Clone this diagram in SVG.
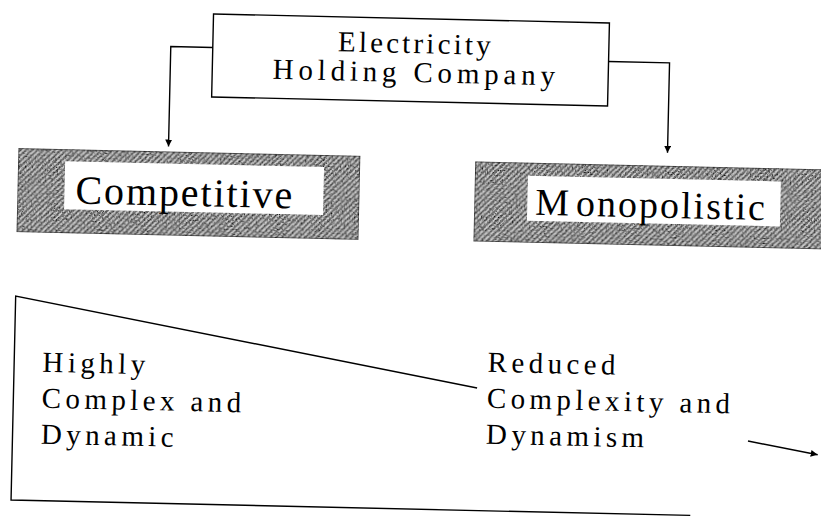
<svg xmlns="http://www.w3.org/2000/svg" width="821" height="518" viewBox="0 0 821 518">
  <style>
    .ln { fill: none; stroke: #000; stroke-width: 1.4; }
    .box { fill: #fff; stroke: #000; stroke-width: 1.4; }
    .shade { fill: url(#hatch); stroke: #222; stroke-width: 1.2; }
    .panel { fill: #fff; stroke: none; }
    .t { font-family: "Liberation Serif", "Times New Roman", serif; fill: #000; }
    .top { font-size: 29px; letter-spacing: 3.2px; text-anchor: middle; }
    .big { font-size: 40px; letter-spacing: 1.9px; }
    .body { font-size: 29px; letter-spacing: 4.4px; }
  </style>
  <defs>
    <pattern id="hatch" width="4" height="4" patternUnits="userSpaceOnUse" patternTransform="rotate(45)">
      <rect width="4" height="4" fill="#d0d0d0"/>
      <rect width="2" height="4" fill="#747474"/>
    </pattern>
    <!-- speckled grain laid over the hatching -->
    <filter id="grainy" x="0" y="0" width="1" height="1">
      <feTurbulence type="fractalNoise" baseFrequency="0.6" numOctaves="3" seed="11" result="n"/>
      <feColorMatrix in="n" type="matrix" values="3 0 0 0 -0.7  3 0 0 0 -0.7  3 0 0 0 -0.7  0 0 0 0 1" result="g"/>
      <feBlend in="SourceGraphic" in2="g" mode="multiply" result="b"/>
      <feComposite in="b" in2="SourceAlpha" operator="in"/>
    </filter>
    <marker id="arr" viewBox="0 0 10 10" refX="10" refY="5" markerWidth="7" markerHeight="7" markerUnits="userSpaceOnUse" orient="auto">
      <path d="M0,0 L10,5 L0,10 z" fill="#000"/>
    </marker>
  </defs>

  <g transform="rotate(1.3 410 260)">
    <!-- parent organisation -->
    <g id="holding">
      <rect class="box" x="208" y="18.5" width="396" height="83"/>
      <text class="t top" x="411" y="53">Electricity</text>
      <text class="t top" x="412" y="82" style="letter-spacing:4.8px">Holding Company</text>
    </g>

    <!-- competitive business -->
    <g id="competitive">
      <rect class="shade" x="16" y="157" width="342" height="84" filter="url(#grainy)"/>
      <rect class="panel" x="63" y="169" width="259" height="48"/>
      <text class="t big" x="74" y="211">Competitive</text>
    </g>

    <!-- monopolistic business -->
    <g id="monopolistic">
      <rect class="shade" x="473" y="160" width="360" height="80" filter="url(#grainy)"/>
      <rect class="panel" x="526" y="173" width="253" height="45"/>
      <text class="t big" x="534" y="212" style="font-size:38px;letter-spacing:2px">M<tspan dx="5">onopolistic</tspan></text>
    </g>

    <!-- complexity wedge -->
    <g id="wedge">
      <path class="ln" d="M480,386.5 L16.6,305 V509 H696"/>
      <text class="t body" x="45" y="380">Highly</text>
      <text class="t body" x="45" y="416">Complex and</text>
      <text class="t body" x="45" y="452">Dynamic</text>
    </g>

    <g id="reduced">
      <text class="t body" x="490" y="370">Reduced</text>
      <text class="t body" x="490" y="406">Complexity and</text>
      <text class="t body" x="490" y="442">Dynamism</text>
    </g>

    <!-- connectors -->
    <g id="connectors">
      <path class="ln" d="M208,52 H166 V152" marker-end="url(#arr)"/>
      <path class="ln" d="M604,57 H665 V147" marker-end="url(#arr)"/>
      <path class="ln" d="M752,433.3 L822,445.5" marker-end="url(#arr)"/>
    </g>
  </g>
</svg>
